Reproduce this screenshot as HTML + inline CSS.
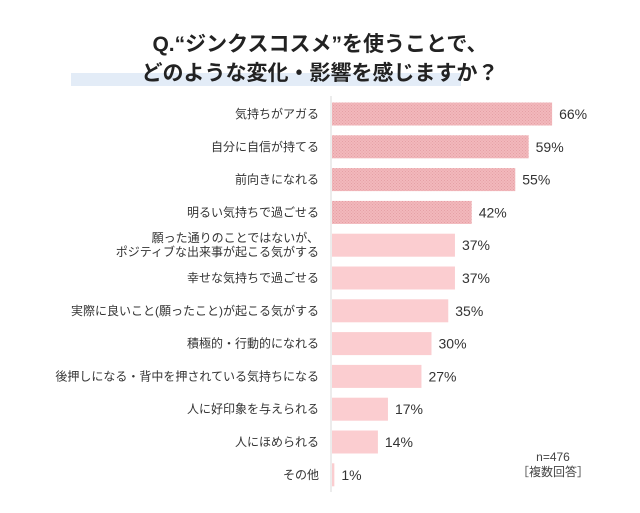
<!DOCTYPE html>
<html><head><meta charset="utf-8"><style>
body{margin:0;width:640px;height:508px;background:#fff;overflow:hidden;font-family:"Liberation Sans","Noto Sans CJK JP",sans-serif;}
</style></head><body>
<svg id="chart" width="640" height="508" xmlns="http://www.w3.org/2000/svg">
<defs>
<pattern id="hatch" width="3" height="3" patternUnits="userSpaceOnUse">
<rect width="3" height="3" fill="#f2b8bc"/><rect width="1" height="1" fill="#e5a0a5"/><rect x="1.5" y="1.5" width="1" height="1" fill="#e5a0a5"/>
</pattern>
</defs>
<rect x="71" y="73" width="390" height="13" fill="#e3ecf7"/>
<text x="320" y="51" text-anchor="middle" font-size="21" font-weight="bold" fill="#222">Q.“ジンクスコスメ”を使うことで、</text>
<text x="320" y="80" text-anchor="middle" font-size="21" font-weight="bold" fill="#222">どのような変化・影響を感じますか？</text>
<line x1="331" y1="96" x2="331" y2="492" stroke="#d8d8d8" stroke-width="1"/>
<g id="bars"></g>
<text x="553" y="461" text-anchor="middle" font-size="12" fill="#444">n=476</text>
<text x="553" y="476" text-anchor="middle" font-size="12" fill="#444">［複数回答］</text>
</svg>
<script>
const categories=["気持ちがアガる","自分に自信が持てる","前向きになれる","明るい気持ちで過ごせる","願った通りのことではないが、|ポジティブな出来事が起こる気がする","幸せな気持ちで過ごせる","実際に良いこと(願ったこと)が起こる気がする","積極的・行動的になれる","後押しになる・背中を押されている気持ちになる","人に好印象を与えられる","人にほめられる","その他"];
const values=[66,59,55,42,37,37,35,30,27,17,14,1];
const highlighted=[true,true,true,true,false,false,false,false,false,false,false,false];
const NS="http://www.w3.org/2000/svg";
const g=document.getElementById('bars');
const x0=331,scale=3.35,y0=114,pitch=32.8,bh=23;
const xs=v=>x0+v*scale;
const ys=i=>y0+i*pitch;
values.forEach((v,i)=>{
  const cy=ys(i);
  const r=document.createElementNS(NS,'rect');
  
  
  r.setAttribute('x',x0+1);r.setAttribute('y',cy-bh/2);
  r.setAttribute('width',xs(v)-x0-1);r.setAttribute('height',bh);
  r.setAttribute('fill',highlighted[i]?'url(#hatch)':'#fbcdd0');
  g.appendChild(r);
  const t=document.createElementNS(NS,'text');
  
  
  t.setAttribute('x',xs(v)+7);t.setAttribute('y',cy+5);
  t.setAttribute('font-size','14');t.setAttribute('fill','#333');
  t.textContent=v+'%';
  g.appendChild(t);
  const lines=categories[i].split('|');
  lines.forEach((ln,k)=>{
    const c=document.createElementNS(NS,'text');
    
    
    c.setAttribute('x',319);
    c.setAttribute('y',cy+4+(lines.length>1?(k-0.5)*14:0));
    c.setAttribute('text-anchor','end');c.setAttribute('font-size','12');c.setAttribute('fill','#333');
    c.textContent=ln;
    g.appendChild(c);
  });
});
</script>
</body></html>
